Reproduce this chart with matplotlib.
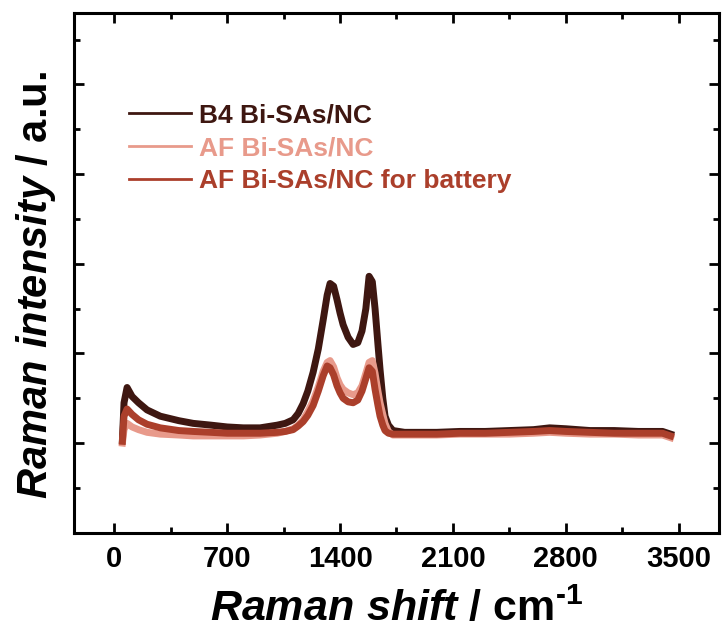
import numpy as np
import matplotlib
matplotlib.use("Agg")
import matplotlib.pyplot as plt
from matplotlib.ticker import MultipleLocator

# 字体设置：Arial 风格加粗
plt.rcParams['font.family'] = ['Liberation Sans', 'DejaVu Sans']
plt.rcParams['font.weight'] = 'bold'
plt.rcParams['mathtext.fontset'] = 'custom'
plt.rcParams['mathtext.rm'] = 'Liberation Sans:bold'
plt.rcParams['mathtext.bf'] = 'Liberation Sans:bold'
plt.rcParams['mathtext.it'] = 'Liberation Sans:bold:italic'
plt.rcParams['mathtext.bfit'] = 'Liberation Sans:bold:italic'

# --- 数据 ---
shift = [50, 60, 79, 110, 150, 203, 285, 400, 489, 600, 700, 800, 904, 1010, 1060,
         1109, 1140, 1171, 1200, 1233, 1265, 1295, 1320, 1338, 1360, 1381, 1400, 1419,
         1450, 1481, 1510, 1536, 1560, 1580, 1600, 1617, 1635, 1648, 1665, 1679, 1700,
         1728, 1800, 1900, 2000, 2143, 2300, 2450, 2600, 2700, 2800, 2950, 3100, 3250,
         3400, 3450]

b4 = [0.03, 0.45, 0.62, 0.52, 0.45, 0.37, 0.30, 0.25, 0.22, 0.20, 0.18, 0.17, 0.17, 0.20, 0.22,
      0.26, 0.33, 0.44, 0.58, 0.79, 1.05, 1.37, 1.65, 1.78, 1.75, 1.60, 1.45, 1.32,
      1.18, 1.10, 1.12, 1.25, 1.50, 1.86, 1.80, 1.50, 1.10, 0.82, 0.50, 0.30, 0.20,
      0.14, 0.12, 0.12, 0.12, 0.13, 0.13, 0.14, 0.15, 0.17, 0.16, 0.14, 0.14, 0.13,
      0.13, 0.10]

af = [0.00, 0.15, 0.22, 0.18, 0.15, 0.12, 0.10, 0.09, 0.08, 0.08, 0.08, 0.08, 0.09, 0.11, 0.13,
      0.16, 0.20, 0.26, 0.35, 0.47, 0.63, 0.80, 0.90, 0.92, 0.85, 0.73, 0.65, 0.60,
      0.56, 0.54, 0.56, 0.64, 0.78, 0.90, 0.92, 0.78, 0.58, 0.45, 0.32, 0.22, 0.13,
      0.09, 0.09, 0.09, 0.09, 0.10, 0.10, 0.10, 0.11, 0.12, 0.11, 0.10, 0.10, 0.09,
      0.09, 0.06]

battery = [0.02, 0.30, 0.38, 0.32, 0.26, 0.21, 0.17, 0.14, 0.13, 0.12, 0.11, 0.11, 0.11, 0.12, 0.13,
           0.15, 0.19, 0.24, 0.31, 0.42, 0.58, 0.75, 0.86, 0.84, 0.76, 0.64, 0.56, 0.50,
           0.46, 0.45, 0.48, 0.58, 0.72, 0.84, 0.80, 0.60, 0.42, 0.30, 0.20, 0.14, 0.11,
           0.10, 0.10, 0.10, 0.10, 0.11, 0.11, 0.12, 0.13, 0.14, 0.13, 0.12, 0.11, 0.11,
           0.11, 0.08]

labels = ["B4 Bi-SAs/NC", "AF Bi-SAs/NC", "AF Bi-SAs/NC for battery"]
colors = ["#3e1711", "#e89a8b", "#ab3f2b"]

# --- 绘图 ---
fig = plt.figure(figsize=(7.23, 6.32), dpi=100)
ax = fig.add_axes([0.1024, 0.157, 0.892, 0.823])

for ys, lab, c in zip([b4, af, battery], labels, colors):
    ax.plot(shift, ys, color=c, lw=5, label=lab, solid_joinstyle='round')

ax.set_xlim(-250, 3750)
ax.set_ylim(-1, 4.8)
ax.xaxis.set_major_locator(MultipleLocator(700))
ax.xaxis.set_minor_locator(MultipleLocator(350))
ax.yaxis.set_major_locator(MultipleLocator(1))
ax.yaxis.set_minor_locator(MultipleLocator(0.5))
ax.set_yticklabels([])

ax.tick_params(which='both', direction='in', top=True, right=True, width=2)
ax.tick_params(which='major', length=7.5, pad=9, labelsize=21)
ax.tick_params(which='minor', length=4)
for sp in ax.spines.values():
    sp.set_linewidth(2.2)

ax.set_xlabel("$\\mathbfit{Raman\\ shift}$ / cm$^{\u2010\\mathregular{1}}$",
              fontsize=31, fontweight='bold', labelpad=11)
ax.set_ylabel(r"$\mathbfit{Raman\ intensity}$ / a.u.", fontsize=30, fontweight='bold')
ax.yaxis.set_label_coords(-0.025, 0.476)

leg = ax.legend(loc='upper left', bbox_to_anchor=(0.085, 0.826), frameon=False,
                prop={'size': 19, 'weight': 'bold'}, handlelength=2.35,
                handletextpad=0.3, labelspacing=0.345, borderpad=0, borderaxespad=0,
                labelcolor='linecolor')
for h in leg.get_lines():
    h.set_linewidth(2)

fig.savefig("out.png", dpi=100)
